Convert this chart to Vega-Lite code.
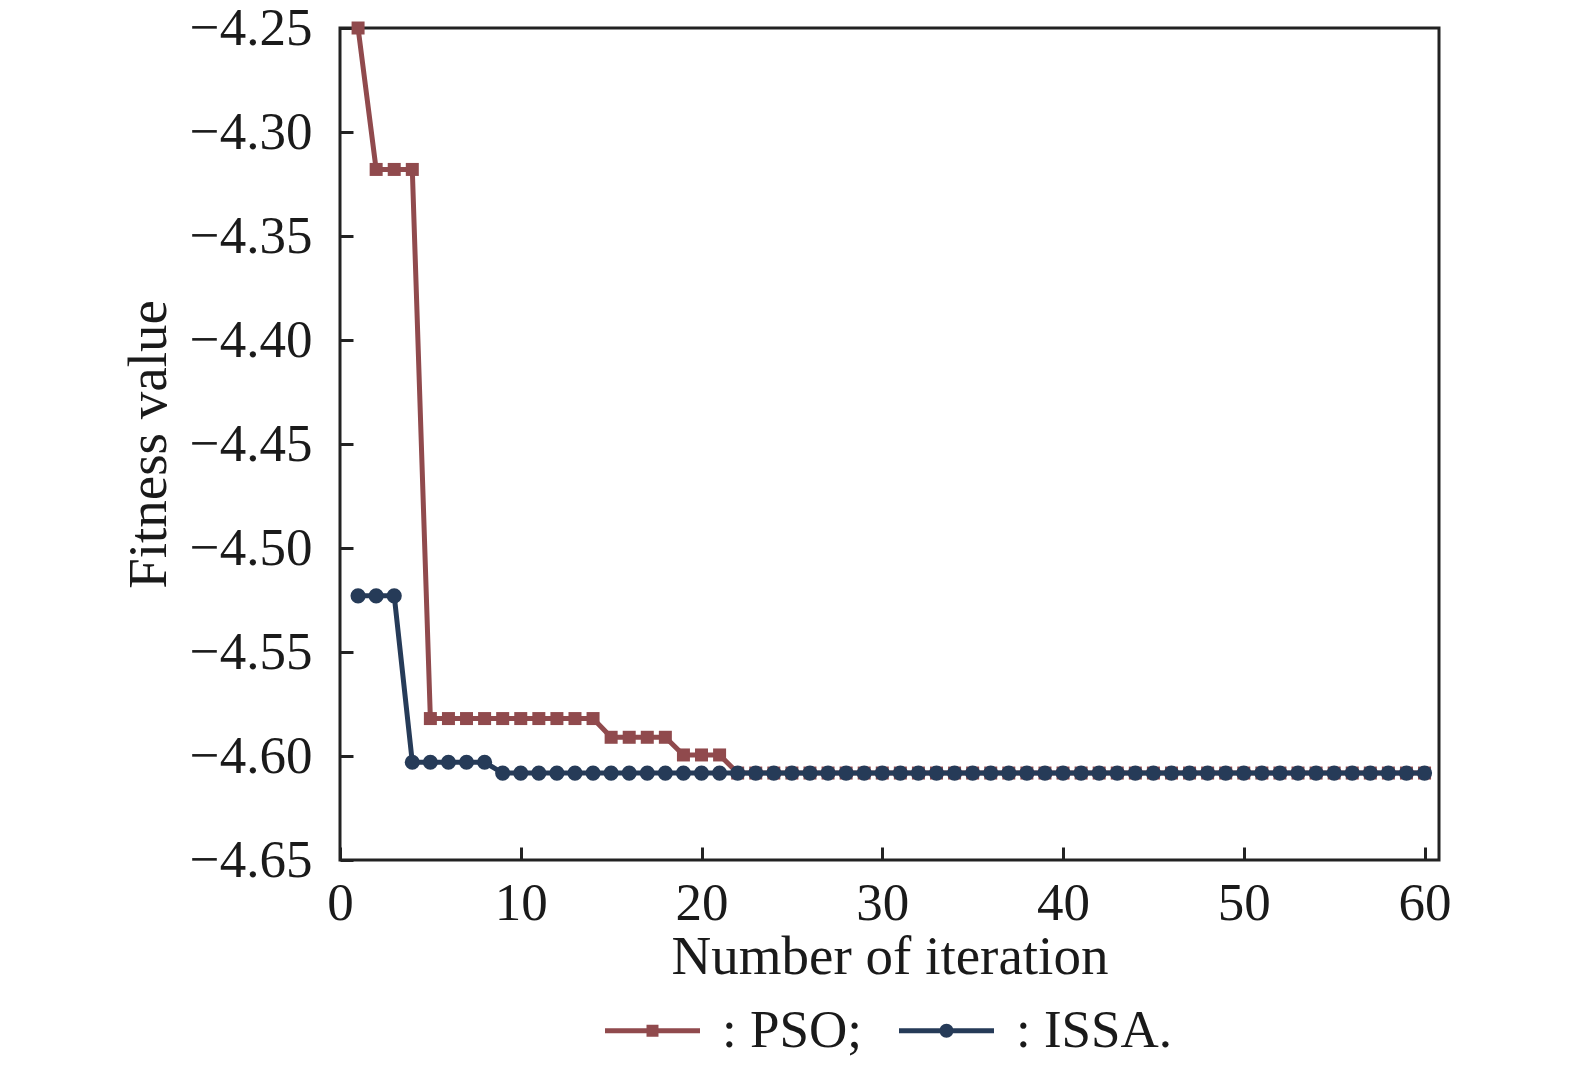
{
  "$schema": "https://vega.github.io/schema/vega-lite/v6.json",
  "autosize": {"type": "none"},
  "width": 1099,
  "height": 832,
  "padding": {"left": 340, "top": 28, "right": 136, "bottom": 205},
  "background": "white",
  "config": {
    "font": "Liberation Serif",
    "view": {"stroke": "#222", "strokeWidth": 3},
    "axis": {
      "grid": false,
      "ticks": true,
      "domain": false,
      "offset": -13,
      "tickColor": "#222",
      "tickWidth": 3,
      "tickSize": 13,
      "labelFont": "Liberation Serif",
      "labelFontSize": 53,
      "labelColor": "#1a1a1a",
      "titleFont": "Liberation Serif",
      "titleFontSize": 55,
      "titleFontWeight": "normal",
      "titleColor": "#1a1a1a"
    }
  },
  "data": {
    "values": [
      {"series": "PSO", "iter": 1, "fitness": -4.25},
      {"series": "PSO", "iter": 2, "fitness": -4.318},
      {"series": "PSO", "iter": 3, "fitness": -4.318},
      {"series": "PSO", "iter": 4, "fitness": -4.318},
      {"series": "PSO", "iter": 5, "fitness": -4.582},
      {"series": "PSO", "iter": 6, "fitness": -4.582},
      {"series": "PSO", "iter": 7, "fitness": -4.582},
      {"series": "PSO", "iter": 8, "fitness": -4.582},
      {"series": "PSO", "iter": 9, "fitness": -4.582},
      {"series": "PSO", "iter": 10, "fitness": -4.582},
      {"series": "PSO", "iter": 11, "fitness": -4.582},
      {"series": "PSO", "iter": 12, "fitness": -4.582},
      {"series": "PSO", "iter": 13, "fitness": -4.582},
      {"series": "PSO", "iter": 14, "fitness": -4.582},
      {"series": "PSO", "iter": 15, "fitness": -4.591},
      {"series": "PSO", "iter": 16, "fitness": -4.591},
      {"series": "PSO", "iter": 17, "fitness": -4.591},
      {"series": "PSO", "iter": 18, "fitness": -4.591},
      {"series": "PSO", "iter": 19, "fitness": -4.5995},
      {"series": "PSO", "iter": 20, "fitness": -4.5995},
      {"series": "PSO", "iter": 21, "fitness": -4.5995},
      {"series": "PSO", "iter": 22, "fitness": -4.6082},
      {"series": "PSO", "iter": 23, "fitness": -4.6082},
      {"series": "PSO", "iter": 24, "fitness": -4.6082},
      {"series": "PSO", "iter": 25, "fitness": -4.6082},
      {"series": "PSO", "iter": 26, "fitness": -4.6082},
      {"series": "PSO", "iter": 27, "fitness": -4.6082},
      {"series": "PSO", "iter": 28, "fitness": -4.6082},
      {"series": "PSO", "iter": 29, "fitness": -4.6082},
      {"series": "PSO", "iter": 30, "fitness": -4.6082},
      {"series": "PSO", "iter": 31, "fitness": -4.6082},
      {"series": "PSO", "iter": 32, "fitness": -4.6082},
      {"series": "PSO", "iter": 33, "fitness": -4.6082},
      {"series": "PSO", "iter": 34, "fitness": -4.6082},
      {"series": "PSO", "iter": 35, "fitness": -4.6082},
      {"series": "PSO", "iter": 36, "fitness": -4.6082},
      {"series": "PSO", "iter": 37, "fitness": -4.6082},
      {"series": "PSO", "iter": 38, "fitness": -4.6082},
      {"series": "PSO", "iter": 39, "fitness": -4.6082},
      {"series": "PSO", "iter": 40, "fitness": -4.6082},
      {"series": "PSO", "iter": 41, "fitness": -4.6082},
      {"series": "PSO", "iter": 42, "fitness": -4.6082},
      {"series": "PSO", "iter": 43, "fitness": -4.6082},
      {"series": "PSO", "iter": 44, "fitness": -4.6082},
      {"series": "PSO", "iter": 45, "fitness": -4.6082},
      {"series": "PSO", "iter": 46, "fitness": -4.6082},
      {"series": "PSO", "iter": 47, "fitness": -4.6082},
      {"series": "PSO", "iter": 48, "fitness": -4.6082},
      {"series": "PSO", "iter": 49, "fitness": -4.6082},
      {"series": "PSO", "iter": 50, "fitness": -4.6082},
      {"series": "PSO", "iter": 51, "fitness": -4.6082},
      {"series": "PSO", "iter": 52, "fitness": -4.6082},
      {"series": "PSO", "iter": 53, "fitness": -4.6082},
      {"series": "PSO", "iter": 54, "fitness": -4.6082},
      {"series": "PSO", "iter": 55, "fitness": -4.6082},
      {"series": "PSO", "iter": 56, "fitness": -4.6082},
      {"series": "PSO", "iter": 57, "fitness": -4.6082},
      {"series": "PSO", "iter": 58, "fitness": -4.6082},
      {"series": "PSO", "iter": 59, "fitness": -4.6082},
      {"series": "PSO", "iter": 60, "fitness": -4.6082},
      {"series": "ISSA", "iter": 1, "fitness": -4.523},
      {"series": "ISSA", "iter": 2, "fitness": -4.523},
      {"series": "ISSA", "iter": 3, "fitness": -4.523},
      {"series": "ISSA", "iter": 4, "fitness": -4.603},
      {"series": "ISSA", "iter": 5, "fitness": -4.603},
      {"series": "ISSA", "iter": 6, "fitness": -4.603},
      {"series": "ISSA", "iter": 7, "fitness": -4.603},
      {"series": "ISSA", "iter": 8, "fitness": -4.603},
      {"series": "ISSA", "iter": 9, "fitness": -4.6082},
      {"series": "ISSA", "iter": 10, "fitness": -4.6082},
      {"series": "ISSA", "iter": 11, "fitness": -4.6082},
      {"series": "ISSA", "iter": 12, "fitness": -4.6082},
      {"series": "ISSA", "iter": 13, "fitness": -4.6082},
      {"series": "ISSA", "iter": 14, "fitness": -4.6082},
      {"series": "ISSA", "iter": 15, "fitness": -4.6082},
      {"series": "ISSA", "iter": 16, "fitness": -4.6082},
      {"series": "ISSA", "iter": 17, "fitness": -4.6082},
      {"series": "ISSA", "iter": 18, "fitness": -4.6082},
      {"series": "ISSA", "iter": 19, "fitness": -4.6082},
      {"series": "ISSA", "iter": 20, "fitness": -4.6082},
      {"series": "ISSA", "iter": 21, "fitness": -4.6082},
      {"series": "ISSA", "iter": 22, "fitness": -4.6082},
      {"series": "ISSA", "iter": 23, "fitness": -4.6082},
      {"series": "ISSA", "iter": 24, "fitness": -4.6082},
      {"series": "ISSA", "iter": 25, "fitness": -4.6082},
      {"series": "ISSA", "iter": 26, "fitness": -4.6082},
      {"series": "ISSA", "iter": 27, "fitness": -4.6082},
      {"series": "ISSA", "iter": 28, "fitness": -4.6082},
      {"series": "ISSA", "iter": 29, "fitness": -4.6082},
      {"series": "ISSA", "iter": 30, "fitness": -4.6082},
      {"series": "ISSA", "iter": 31, "fitness": -4.6082},
      {"series": "ISSA", "iter": 32, "fitness": -4.6082},
      {"series": "ISSA", "iter": 33, "fitness": -4.6082},
      {"series": "ISSA", "iter": 34, "fitness": -4.6082},
      {"series": "ISSA", "iter": 35, "fitness": -4.6082},
      {"series": "ISSA", "iter": 36, "fitness": -4.6082},
      {"series": "ISSA", "iter": 37, "fitness": -4.6082},
      {"series": "ISSA", "iter": 38, "fitness": -4.6082},
      {"series": "ISSA", "iter": 39, "fitness": -4.6082},
      {"series": "ISSA", "iter": 40, "fitness": -4.6082},
      {"series": "ISSA", "iter": 41, "fitness": -4.6082},
      {"series": "ISSA", "iter": 42, "fitness": -4.6082},
      {"series": "ISSA", "iter": 43, "fitness": -4.6082},
      {"series": "ISSA", "iter": 44, "fitness": -4.6082},
      {"series": "ISSA", "iter": 45, "fitness": -4.6082},
      {"series": "ISSA", "iter": 46, "fitness": -4.6082},
      {"series": "ISSA", "iter": 47, "fitness": -4.6082},
      {"series": "ISSA", "iter": 48, "fitness": -4.6082},
      {"series": "ISSA", "iter": 49, "fitness": -4.6082},
      {"series": "ISSA", "iter": 50, "fitness": -4.6082},
      {"series": "ISSA", "iter": 51, "fitness": -4.6082},
      {"series": "ISSA", "iter": 52, "fitness": -4.6082},
      {"series": "ISSA", "iter": 53, "fitness": -4.6082},
      {"series": "ISSA", "iter": 54, "fitness": -4.6082},
      {"series": "ISSA", "iter": 55, "fitness": -4.6082},
      {"series": "ISSA", "iter": 56, "fitness": -4.6082},
      {"series": "ISSA", "iter": 57, "fitness": -4.6082},
      {"series": "ISSA", "iter": 58, "fitness": -4.6082},
      {"series": "ISSA", "iter": 59, "fitness": -4.6082},
      {"series": "ISSA", "iter": 60, "fitness": -4.6082}
    ]
  },
  "encoding": {
    "x": {
      "field": "iter",
      "type": "quantitative",
      "title": "Number of iteration",
      "scale": {"domain": [0, 60.8], "nice": false, "zero": false},
      "axis": {"values": [0, 10, 20, 30, 40, 50, 60], "labelPadding": 17, "labelFlush": false, "titlePadding": 0}
    },
    "y": {
      "field": "fitness",
      "type": "quantitative",
      "title": "Fitness value",
      "scale": {"domain": [-4.65, -4.25], "nice": false, "zero": false},
      "axis": {"values": [-4.65, -4.6, -4.55, -4.5, -4.45, -4.4, -4.35, -4.3, -4.25], "format": ".2f", "labelPadding": 28, "labelFlush": false, "titlePadding": 12}
    }
  },
  "layer": [
    {
      "transform": [{"filter": "datum.series == 'PSO'"}],
      "mark": {"type": "line", "strokeWidth": 5, "color": "#904a4d"}
    },
    {
      "transform": [{"filter": "datum.series == 'PSO'"}],
      "mark": {"type": "point", "shape": "square", "filled": true, "size": 169, "opacity": 1, "color": "#904a4d"}
    },
    {
      "transform": [{"filter": "datum.series == 'ISSA'"}],
      "mark": {"type": "line", "strokeWidth": 5, "color": "#263b58"}
    },
    {
      "transform": [{"filter": "datum.series == 'ISSA'"}],
      "mark": {"type": "point", "shape": "circle", "filled": true, "size": 230, "opacity": 1, "color": "#263b58"}
    },
    {
      "mark": {"type": "point", "filled": true, "opacity": 0, "size": 10},
      "encoding": {
        "color": {
          "field": "series",
          "type": "nominal",
          "scale": {"domain": ["PSO", "ISSA"], "range": ["#904a4d", "#263b58"]},
          "legend": {
            "title": null,
            "orient": "none",
            "direction": "horizontal",
            "legendX": 265,
            "legendY": 955,
            "padding": 0,
            "symbolSize": 9025,
            "symbolOpacity": 1,
            "symbolStrokeWidth": 0,
            "labelFont": "Liberation Serif",
            "labelFontSize": 53,
            "labelColor": "#1a1a1a",
            "labelOffset": 22,
            "columnPadding": 37,
            "labelLimit": 400,
            "labelExpr": "': ' + datum.label + (datum.label == 'PSO' ? ';' : '.')"
          }
        },
        "shape": {
          "field": "series",
          "type": "nominal",
          "scale": {
            "domain": ["PSO", "ISSA"],
            "range": [
              "M-1,-0.053H1V0.053H-1Z M-0.126,-0.126H0.126V0.126H-0.126Z",
              "M-1,-0.053H1V0.053H-1Z M0.147,0A0.147,0.147,0,1,1,-0.147,0A0.147,0.147,0,1,1,0.147,0Z"
            ]
          },
          "legend": {
            "title": null,
            "orient": "none",
            "direction": "horizontal",
            "legendX": 265,
            "legendY": 955,
            "padding": 0,
            "symbolSize": 9025,
            "symbolOpacity": 1,
            "symbolStrokeWidth": 0,
            "labelFont": "Liberation Serif",
            "labelFontSize": 53,
            "labelColor": "#1a1a1a",
            "labelOffset": 22,
            "columnPadding": 37,
            "labelLimit": 400,
            "labelExpr": "': ' + datum.label + (datum.label == 'PSO' ? ';' : '.')"
          }
        }
      }
    }
  ]
}
